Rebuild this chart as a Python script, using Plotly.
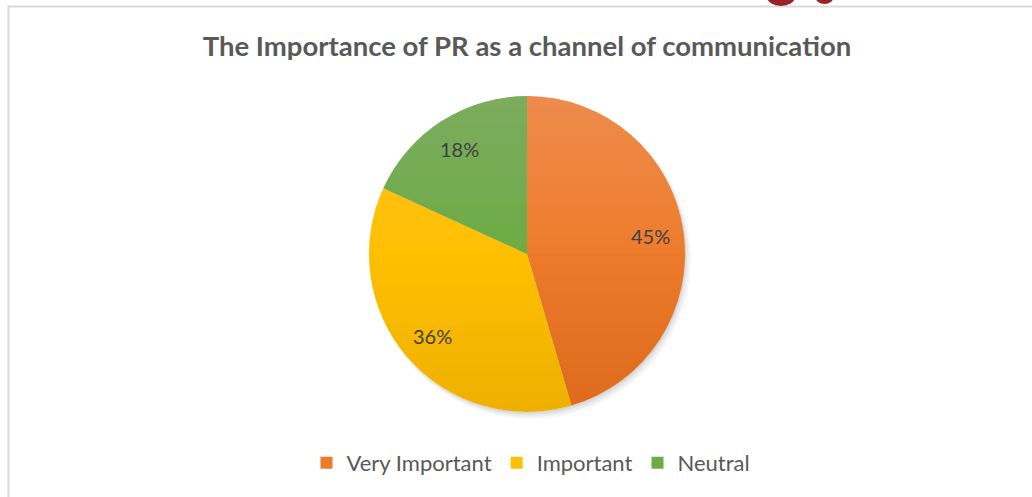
import math
import plotly.graph_objects as go

# Survey responses: importance of PR as a communication channel (percent)
categories = ["Very Important", "Important", "Neutral"]
shares = [45, 36, 18]
slice_colors = ["#EE7B2B", "#FFC000", "#6CAC42"]

W, H = 1032, 497
FONT = "Lato, Open Sans, sans-serif"

# Pie geometry in pixels (page is drawn with zero margins)
cx, cy, r = 527, 254, 158


def px(x):
    return x / W


def py(y):
    return (H - y) / H


fig = go.Figure()

fig.add_trace(go.Pie(
    labels=categories,
    values=shares,
    sort=False,
    direction="clockwise",
    rotation=0,
    marker=dict(colors=slice_colors, line=dict(width=0)),
    textinfo="none",
    domain=dict(x=[px(cx - r), px(cx + r)], y=[py(cy + r), py(cy - r)]),
    hoverinfo="label+percent",
    showlegend=True,
))

shapes = []

# soft drop shadow behind the pie
for dx, dy, grow, a in [(4, 5, 2, 0.03), (3, 4, 1, 0.04), (2, 3, 0, 0.05), (1, 1, 0, 0.05)]:
    shapes.append(dict(
        type="circle", xref="paper", yref="paper", layer="below",
        x0=px(cx - r + dx - grow), x1=px(cx + r + dx + grow),
        y0=py(cy + r + dy + grow), y1=py(cy - r + dy - grow),
        fillcolor=f"rgba(0,0,0,{a})", line=dict(width=0),
    ))


def cap_path(y_cut, from_top):
    """Circle segment of the pie disc between its top (or bottom) and y_cut."""
    pts = []
    n = 48
    h = max(-1.0, min(1.0, (y_cut - cy) / r))
    phi = math.acos(h)  # angle from the downward axis
    if from_top:
        angs = [phi + (2 * math.pi - 2 * phi) * i / n for i in range(n + 1)]
    else:
        angs = [-phi + 2 * phi * i / n for i in range(n + 1)]
    for t in angs:
        x = cx + r * math.sin(t)
        y = cy + r * math.cos(t)
        pts.append(f"{px(x):.5f},{py(y):.5f}")
    return "M" + " L".join(pts) + " Z"


# vertical shading of the disc: lighter towards the top, deeper towards the bottom
steps = 16
for k in range(1, steps + 1):
    y_top = cy - r + (r * k / steps)
    shapes.append(dict(type="path", xref="paper", yref="paper", path=cap_path(y_top, True),
                       fillcolor="white", opacity=0.011, line=dict(width=0)))
    y_bot = cy + r - (r * k / steps)
    shapes.append(dict(type="path", xref="paper", yref="paper", path=cap_path(y_bot, False),
                       fillcolor="black", opacity=0.0035, line=dict(width=0)))

# chart area frame (left and top edges visible)
shapes.append(dict(
    type="rect", xref="paper", yref="paper",
    x0=px(8.5), x1=1.02, y0=-0.02, y1=py(6.5),
    line=dict(color="#D9D9D9", width=2), fillcolor="rgba(0,0,0,0)",
))
# dark red emblem peeking in at the top edge
for x0, x1, y0, y1 in [(767, 795, -12, 6), (815, 834, -12, 4)]:
    shapes.append(dict(
        type="circle", xref="paper", yref="paper",
        x0=px(x0), x1=px(x1), y0=py(y1), y1=py(y0),
        fillcolor="#9B2226", line=dict(width=0),
    ))

# percentage labels placed along each slice's middle angle
annotations = []
total = sum(shares)
acc = 0
for v in shares:
    mid = (acc + v / 2) / total * 2 * math.pi
    acc += v
    rr = 0.79 * r
    annotations.append(dict(
        x=px(cx + rr * math.sin(mid)), y=py(cy - rr * math.cos(mid)),
        xref="paper", yref="paper", text=f"{v}%", showarrow=False,
        xanchor="center", yanchor="middle",
        font=dict(family=FONT, size=20, color="#404040"),
    ))

fig.update_layout(
    width=W, height=H,
    margin=dict(l=0, r=0, t=0, b=0),
    paper_bgcolor="white",
    plot_bgcolor="white",
    shapes=shapes,
    annotations=annotations,
    title=dict(
        # zero-width non-joiner keeps "ti" from fusing into a ligature
        text="<b>The Importance of PR as a channel of communica\u200ction</b>",
        x=px(527), xanchor="center", y=py(46), yanchor="middle",
        font=dict(family=FONT, size=27.5, color="#595959"),
    ),
    legend=dict(
        orientation="h", x=px(531), xanchor="center", y=py(463), yanchor="middle",
        font=dict(family=FONT, size=22, color="#595959"),
        itemwidth=30, traceorder="normal",
    ),
)

fig.write_html("out.html")
